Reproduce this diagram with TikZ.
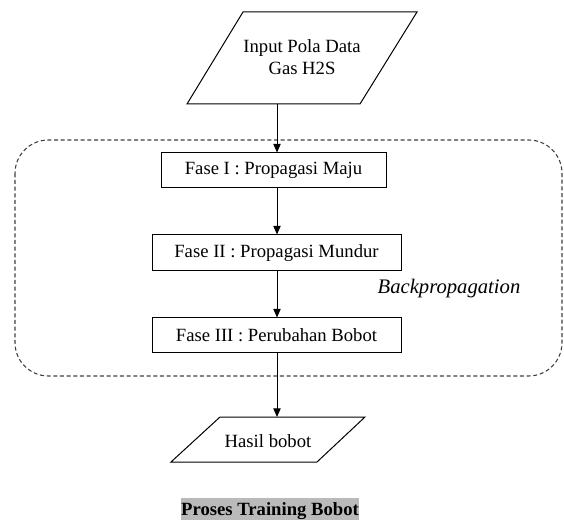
\documentclass[tikz,border=0pt]{standalone}
\usepackage{fontspec}
\setmainfont{Liberation Serif}
\usetikzlibrary{arrows.meta}

\tikzset{
  txt/.style={font=\fontsize{14}{17}\selectfont, inner sep=0pt, align=center},
  stepbox/.style={draw, line width=0.75pt, rectangle, inner sep=0pt,
    font=\fontsize{14}{17}\selectfont},
  ioshape/.style={draw, line width=0.75pt, line join=miter},
  arr/.style={draw, line width=0.75pt, -{Triangle[length=6.5pt,width=5.5pt]}},
  groupbox/.style={draw=black!75, line width=0.8pt, dash pattern=on 3pt off 2pt,
    rounded corners=25pt},
}

\begin{document}
\begin{tikzpicture}[x=0.75pt, y=-0.75pt]
\useasboundingbox (0,0) rectangle (564,520);

% input parallelogram
\draw[ioshape] (243,12) -- (417,12) -- (360,104) -- (187,104) -- cycle;
\node[txt] (input) at (302,57) {Input Pola Data\\Gas H2S};
\coordinate (inB) at (277,104);
\coordinate (ax) at (277,0);

% backpropagation group
\draw[groupbox] (15,140) rectangle (562,376);
\node[font=\fontsize{15.5}{18}\selectfont\itshape, inner sep=0pt] (bp) at (449,289) {Backpropagation};

% the three phases
\node[stepbox, minimum width=168.75pt, minimum height=26.25pt] (f1) at (273.5,170.5) {Fase I : Propagasi Maju};
\node[stepbox, minimum width=186.75pt, minimum height=27pt] (f2) at (276.5,253) {Fase II : Propagasi Mundur};
\node[stepbox, minimum width=186.75pt, minimum height=25.5pt] (f3) at (276.5,335) {Fase III : Perubahan Bobot};

% output parallelogram
\draw[ioshape] (220,417) -- (365,417) -- (317,462) -- (171,462) -- cycle;
\node[txt] (out) at (268,441) {Hasil bobot};
\coordinate (outT) at (277,417);

% connectors
\draw[arr] (inB) -- (inB |- f1.north);
\draw[arr] (f1.south -| ax) -- (f2.north -| ax);
\draw[arr] (f2.south -| ax) -- (f3.north -| ax);
\draw[arr] (f3.south -| ax) -- (outT);

% caption
\node[anchor=base, fill=black!27, inner xsep=0pt, inner ysep=0pt,
      text height=12.75pt, text depth=3.75pt,
      font=\fontsize{14}{17}\selectfont\bfseries] (cap) at (270,515) {Proses Training Bobot};
\end{tikzpicture}
\end{document}
